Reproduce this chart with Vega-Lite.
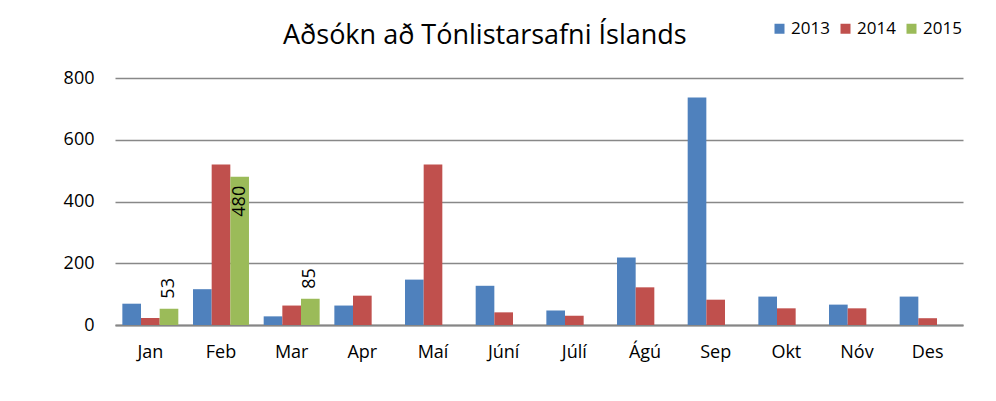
{
  "$schema": "https://vega.github.io/schema/vega-lite/v6.json",
  "width": 848,
  "height": 247,
  "autosize": {"type": "none"},
  "padding": {"left": 115, "top": 78, "right": 33, "bottom": 76},
  "background": "white",
  "title": {
    "text": "Aðsókn að Tónlistarsafni Íslands",
    "font": "Open Sans",
    "fontSize": 27,
    "fontWeight": "normal",
    "color": "#000000",
    "anchor": "start",
    "frame": "group",
    "dx": 168,
    "dy": 52,
    "offset": 22
  },
  "data": {
    "values": [
      {"month": "Jan", "year": "2013", "value": 69},
      {"month": "Jan", "year": "2014", "value": 23},
      {"month": "Jan", "year": "2015", "value": 53},
      {"month": "Feb", "year": "2013", "value": 116},
      {"month": "Feb", "year": "2014", "value": 520},
      {"month": "Feb", "year": "2015", "value": 480},
      {"month": "Mar", "year": "2013", "value": 28},
      {"month": "Mar", "year": "2014", "value": 63},
      {"month": "Mar", "year": "2015", "value": 85},
      {"month": "Apr", "year": "2013", "value": 63},
      {"month": "Apr", "year": "2014", "value": 95},
      {"month": "Maí", "year": "2013", "value": 147},
      {"month": "Maí", "year": "2014", "value": 520},
      {"month": "Júní", "year": "2013", "value": 127},
      {"month": "Júní", "year": "2014", "value": 41},
      {"month": "Júlí", "year": "2013", "value": 47},
      {"month": "Júlí", "year": "2014", "value": 30},
      {"month": "Ágú", "year": "2013", "value": 219},
      {"month": "Ágú", "year": "2014", "value": 122},
      {"month": "Sep", "year": "2013", "value": 737},
      {"month": "Sep", "year": "2014", "value": 82},
      {"month": "Okt", "year": "2013", "value": 92},
      {"month": "Okt", "year": "2014", "value": 54},
      {"month": "Nóv", "year": "2013", "value": 66},
      {"month": "Nóv", "year": "2014", "value": 54},
      {"month": "Des", "year": "2013", "value": 92},
      {"month": "Des", "year": "2014", "value": 22}
    ]
  },
  "encoding": {
    "x": {
      "field": "month",
      "type": "nominal",
      "sort": ["Jan", "Feb", "Mar", "Apr", "Maí", "Júní", "Júlí", "Ágú", "Sep", "Okt", "Nóv", "Des"],
      "scale": {"paddingInner": 0.208, "paddingOuter": 0.104},
      "axis": {
        "title": null,
        "labelAngle": 0,
        "labelFont": "Open Sans",
        "labelFontSize": 18,
        "labelColor": "#000000",
        "labelPadding": 18,
        "ticks": false,
        "domainColor": "#868686",
        "domainWidth": 2,
        "grid": false
      }
    },
    "xOffset": {
      "field": "year",
      "type": "nominal",
      "scale": {"domain": ["2013", "2014", "2015"], "paddingInner": 0, "paddingOuter": 0}
    },
    "y": {
      "field": "value",
      "type": "quantitative",
      "scale": {"domain": [0, 800], "nice": false},
      "axis": {
        "title": null,
        "values": [0, 200, 400, 600, 800],
        "labelFont": "Open Sans",
        "labelFontSize": 18,
        "labelColor": "#000000",
        "labelPadding": 21,
        "ticks": false,
        "domain": false,
        "gridColor": "#888888",
        "gridWidth": 1.5
      }
    }
  },
  "layer": [
    {
      "mark": {"type": "bar"},
      "encoding": {
        "color": {
          "field": "year",
          "type": "nominal",
          "scale": {"domain": ["2013", "2014", "2015"], "range": ["#4F81BD", "#C0504D", "#9BBB59"]},
          "legend": {
            "title": null,
            "orient": "none",
            "legendX": 656,
            "legendY": -58,
            "direction": "horizontal",
            "symbolType": "square",
            "symbolSize": 100,
            "symbolStrokeWidth": 0,
            "symbolOpacity": 1,
            "labelFont": "Open Sans",
            "labelFontSize": 17,
            "labelColor": "#000000",
            "labelOffset": 3,
            "columnPadding": 7
          }
        }
      }
    },
    {
      "transform": [{"filter": "datum.year == '2015' && datum.value < 300"}],
      "mark": {"type": "text", "angle": 270, "align": "left", "baseline": "middle", "dx": 10, "font": "Open Sans", "fontSize": 18, "color": "#000000"},
      "encoding": {"text": {"field": "value", "type": "quantitative"}}
    },
    {
      "transform": [{"filter": "datum.year == '2015' && datum.value >= 300"}],
      "mark": {"type": "text", "angle": 270, "align": "right", "baseline": "middle", "dx": -9, "font": "Open Sans", "fontSize": 18, "color": "#000000"},
      "encoding": {"text": {"field": "value", "type": "quantitative"}}
    }
  ],
  "config": {
    "view": {"stroke": null}
  }
}
